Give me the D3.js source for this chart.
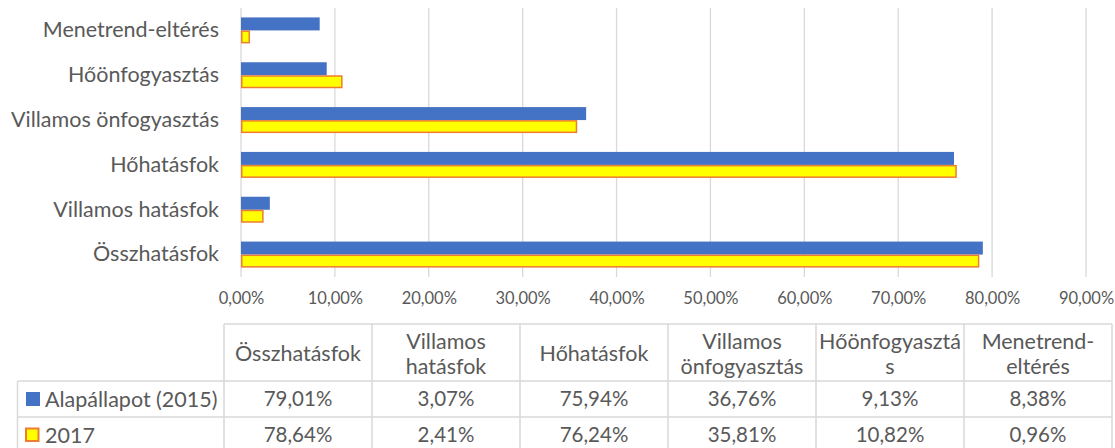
<!DOCTYPE html>
<html>
<head>
<meta charset="utf-8">
<script src="https://cdn.jsdelivr.net/npm/d3@7"></script>
<style>
  body { margin: 0; background: #fff; }
  svg { font-family: Lato, "Open Sans", sans-serif; }
  .txt { fill: #595959; }
</style>
</head>
<body>
<div id="chart"></div>
<script>
(function () {

  // Data
  const categories = ["Összhatásfok", "Villamos hatásfok", "Hőhatásfok", "Villamos önfogyasztás", "Hőönfogyasztás", "Menetrend-eltérés"]
  const headerLines = [["Összhatásfok"], ["Villamos", "hatásfok"], ["Hőhatásfok"], ["Villamos", "önfogyasztás"], ["Hőönfogyasztá", "s"], ["Menetrend-", "eltérés"]]
  const seriesNames = ["Alapállapot (2015)", "2017"]
  const base2015 = [79.01, 3.07, 75.94, 36.76, 9.13, 8.38]
  const y2017 = [78.64, 2.41, 76.24, 35.81, 10.82, 0.96]
  const xTicks = [0, 10, 20, 30, 40, 50, 60, 70, 80, 90]

  const W = 1115, H = 448
  const plot = { left: 241, right: 1086, top: 8, bottom: 277 }
  const labelFont = "21.5px"
  const valueFont = "20.5px"
  const tickFont = "16.5px"

  const fmt = v => d3.format(".2f")(v).replace(".", ",") + "%"
  const colors = ["#4472C4", "#FFFF00"]

  const svg = d3.select("#chart").append("svg")
    .attr("width", W)
    .attr("height", H)

  // Scales
  const x = d3.scaleLinear().domain([0, 90]).range([plot.left, plot.right])
  const y = d3.scaleBand()
    .domain(categories.slice().reverse())
    .range([plot.top, plot.bottom])
    .paddingInner(0.42)
    .paddingOuter(0.21)
  const ySub = d3.scaleBand().domain([0, 1]).range([0, y.bandwidth()])

  // Gridlines
  svg.append("g")
    .selectAll("line")
    .data(xTicks)
    .join("line")
    .attr("x1", d => x(d)).attr("x2", d => x(d))
    .attr("y1", plot.top).attr("y2", plot.bottom)
    .attr("stroke", "#d9d9d9")
    .attr("stroke-width", 1.3)

  // x axis labels
  const xAxis = d3.axisBottom(x).tickValues(xTicks).tickSize(0).tickPadding(0)
    .tickFormat(d => fmt(d))
  svg.append("g")
    .attr("transform", `translate(0,${plot.bottom + 21})`)
    .call(xAxis)
    .call(g => g.select(".domain").remove())
    .selectAll("text")
    .attr("class", "txt")
    .attr("dy", "0.35em")
    .style("font-family", "Lato")
    .style("font-size", tickFont)

  // y axis labels
  const yAxis = d3.axisLeft(y).tickSize(0).tickPadding(22)
  svg.append("g")
    .attr("transform", `translate(${plot.left},0)`)
    .call(yAxis)
    .call(g => g.select(".domain").remove())
    .selectAll("text")
    .attr("class", "txt")
    .style("font-family", "Lato")
    .style("font-size", labelFont)

  // Bars
  const series = [base2015, y2017]
  series.forEach((vals, si) => {
    svg.append("g")
      .selectAll("rect")
      .data(categories.map((c, i) => ({ c, v: vals[i] })))
      .join("rect")
      .attr("x", x(0) + (si ? 0.75 : 0))
      .attr("y", d => y(d.c) + ySub(si) + (si ? 0.75 : 0))
      .attr("width", d => x(d.v) - x(0) - (si ? 1.5 : 0))
      .attr("height", ySub.bandwidth() - (si ? 1.5 : 0))
      .attr("fill", colors[si])
      .attr("stroke", si ? "#ED7D31" : "none")
      .attr("stroke-width", 1.5)
  })

  // Data table
  const tbl = { left: 17.5, colStart: 224, right: 1112, top: 324, headBottom: 381, rowH: 36 }
  const colW = (tbl.right - tbl.colStart) / categories.length
  const border = svg.append("g").attr("stroke", "#d9d9d9").attr("stroke-width", 1.5)

  // horizontal lines
  border.append("line").attr("x1", tbl.colStart).attr("x2", tbl.right).attr("y1", tbl.top).attr("y2", tbl.top)
  d3.range(3).forEach(r => {
    const yy = tbl.headBottom + r * tbl.rowH
    border.append("line").attr("x1", tbl.left).attr("x2", tbl.right).attr("y1", yy).attr("y2", yy)
  })
  // vertical lines
  border.append("line").attr("x1", tbl.left).attr("x2", tbl.left).attr("y1", tbl.headBottom).attr("y2", H + 5)
  d3.range(categories.length + 1).forEach(c => {
    const xx = tbl.colStart + c * colW
    border.append("line").attr("x1", xx).attr("x2", xx).attr("y1", tbl.top).attr("y2", H + 5)
  })

  // header texts
  const headMid = (tbl.top + tbl.headBottom) / 2 + 1
  headerLines.forEach((lines, c) => {
    const t = svg.append("text")
      .attr("class", "txt")
      .attr("x", tbl.colStart + (c + 0.5) * colW)
      .attr("text-anchor", "middle")
      .style("font-size", labelFont)
    lines.forEach((ln, li) => {
      t.append("tspan")
        .attr("x", tbl.colStart + (c + 0.5) * colW)
        .attr("y", headMid + (li - (lines.length - 1) / 2) * 25)
        .attr("dy", "0.35em")
        .text(ln)
    })
  })

  // rows
  series.forEach((vals, si) => {
    const rowMid = tbl.headBottom + (si + 0.5) * tbl.rowH
    svg.append("rect")
      .attr("x", 26).attr("y", rowMid - 7 + (si ? 0.5 : 0))
      .attr("width", si ? 12.5 : 14).attr("height", si ? 12.5 : 14)
      .attr("fill", colors[si])
      .attr("stroke", si ? "#ED7D31" : "none")
      .attr("stroke-width", 2)
    svg.append("text")
      .attr("class", "txt")
      .attr("x", 45).attr("y", rowMid).attr("dy", "0.35em")
      .style("font-size", labelFont)
      .text(seriesNames[si])
    svg.append("g")
      .selectAll("text")
      .data(vals)
      .join("text")
      .attr("class", "txt")
      .attr("x", (d, i) => tbl.colStart + (i + 0.5) * colW)
      .attr("y", rowMid).attr("dy", "0.35em")
      .attr("text-anchor", "middle")
      .style("font-size", valueFont)
      .text(d => fmt(d))
  })

})();
</script>
</body>
</html>
